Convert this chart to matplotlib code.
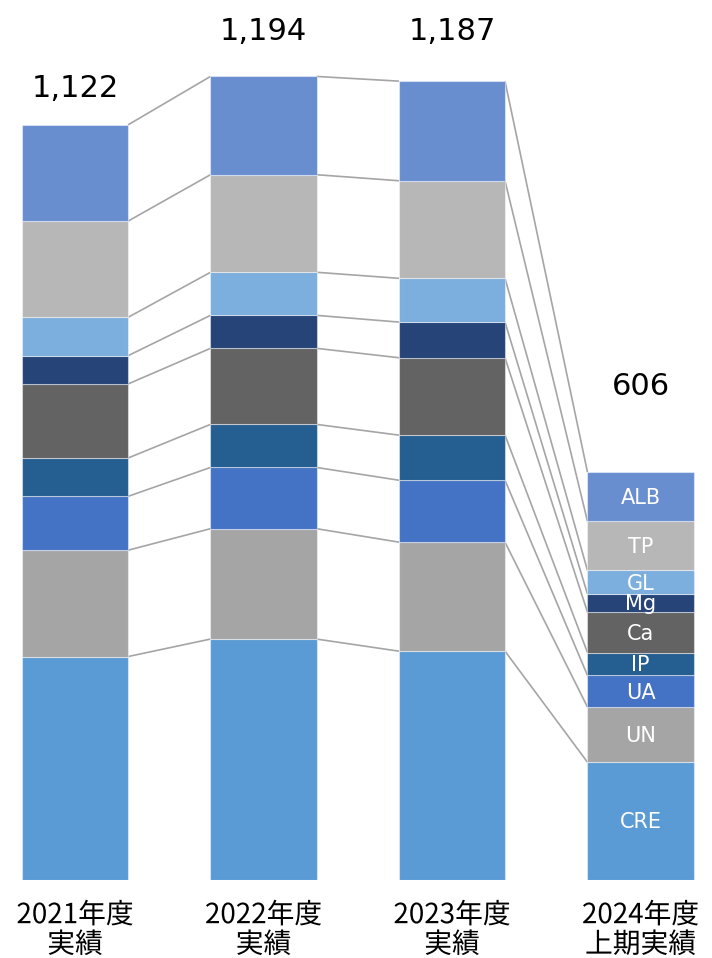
import matplotlib
matplotlib.use("Agg")
import matplotlib.pyplot as plt
import matplotlib.patheffects as pe
import numpy as np

# data (stack order bottom -> top)
periods = ["2021年度\n実績", "2022年度\n実績", "2023年度\n実績", "2024年度\n上期実績"]
segments = ["CRE", "UN", "UA", "IP", "Ca", "Mg", "GL", "TP", "ALB"]
totals = [1122, 1194, 1187, 606]
cre = [332, 358, 340, 175]
un = [158, 164, 162, 82]
ua = [80, 91, 92, 47]
ip = [57, 64, 67, 34]
ca = [110, 113, 115, 60]
mg = [42, 49, 53, 27]
gl = [57, 64, 65, 35]
tp = [143, 145, 145, 73]
alb = [143, 146, 148, 73]

colors = ["#5B9BD5", "#A5A5A5", "#4472C4", "#255E91", "#636363",
          "#264478", "#7CAFDD", "#B7B7B7", "#698ED0"]

# layout
W, H = 712, 958
px = 0.673          # pixels per unit
base_px = 880       # bar bottom (from top)
label_base_px = [97, 40, 40, 395]   # baseline of total labels

fig = plt.figure(figsize=(W / 100, H / 100), dpi=100)
ax = fig.add_axes([0, (H - base_px) / H, 1, base_px / H])
x = np.arange(len(periods))
width = 0.5625
ax.set_xlim(-75 / 188.5, (W - 75) / 188.5)
ax.set_ylim(0, base_px / px)
ax.axis("off")

stack = np.array([cre, un, ua, ip, ca, mg, gl, tp, alb], dtype=float)
bottoms = np.zeros(len(periods))
tops = []
for name, vals, c in zip(segments, stack, colors):
    ax.bar(x, vals, width, bottom=bottoms, color=c,
           edgecolor=(1, 1, 1, 0.45), linewidth=0.8, zorder=2)
    last = len(periods) - 1
    ax.text(x[last], bottoms[last] + vals[last] / 2 - 2, name, color="white",
            ha="center", va="center", fontsize=15, zorder=3)
    bottoms = bottoms + vals
    tops.append(bottoms.copy())

# connector lines between neighbouring bars
for t in tops:
    for i in range(len(periods) - 1):
        ax.plot([x[i] + width / 2, x[i + 1] - width / 2], [t[i], t[i + 1]],
                color="#A5A5A5", lw=1.2, zorder=1, solid_capstyle="butt")

for i, tot in enumerate(totals):
    ax.text(x[i], (base_px - label_base_px[i]) / px, f"{tot:,}",
            ha="center", va="baseline", fontsize=22, color="black",
            family="DejaVu Sans")

for i, lab in enumerate(periods):
    ax.text(x[i], -30, lab, ha="center", va="top", fontsize=20,
            family=["Noto Sans CJK JP", "DejaVu Sans"], linespacing=0.98,
            color="black",
            path_effects=[pe.withStroke(linewidth=3, foreground="white")],
            clip_on=False)

fig.savefig("out.png", dpi=100)
